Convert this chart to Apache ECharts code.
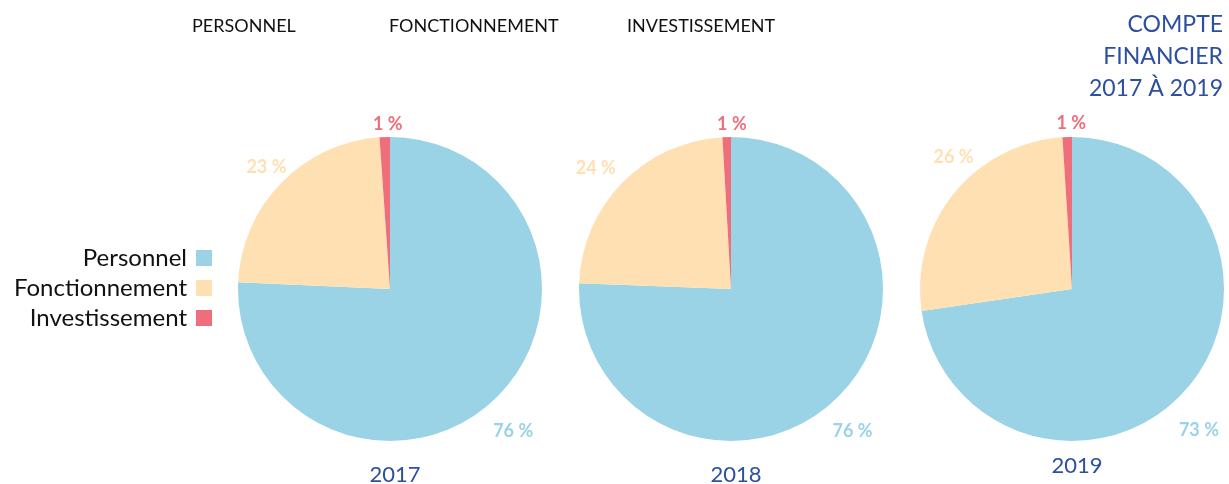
<!DOCTYPE html>
<html>
<head>
<meta charset="utf-8">
<script src="https://cdn.jsdelivr.net/npm/echarts@6/dist/echarts.min.js"></script>
<style>
  html, body { margin: 0; padding: 0; background: #fff; }
  #chart { width: 1229px; height: 484px; }
</style>
</head>
<body>
<div id="chart"></div>
<script>
// ---- data ----
const categories = ['Personnel', 'Fonctionnement', 'Investissement'];
const years = ['2017', '2018', '2019'];
const values2017 = [75.7, 23.2, 1.1];
const values2018 = [75.6, 23.5, 0.9];
const values2019 = [72.7, 26.3, 1.0];
const headerLabels = ['PERSONNEL', 'FONCTIONNEMENT', 'INVESTISSEMENT'];
const mainTitle = 'COMPTE\nFINANCIER\n2017 À 2019';

// ---- styles / layout ----
const COLORS = ['#9AD3E5', '#FFE0B2', '#EE6E7B'];
const FONT = 'Lato, "Open Sans", sans-serif';
const BLUE = '#2C4FA0';
const centersX = [390, 731, 1072];
const centerY = 289;
const yearLabelY = [472, 472, 463];
const headerX = [187, 384, 622];
// small nudges (px) of each percentage label away from its default mid-slice spot
const LABEL_NUDGE = [
  [[-2, 11], [6, 5], [4, 16]],
  [[-4, 12], [-6, 6], [6, 16]],
  [[-10, 23], [22, -18], [5, 15]]
];

const allValues = [values2017, values2018, values2019];

const series = [];
allValues.forEach((vals, k) => {
  series.push({
    type: 'pie',
    name: years[k],
    center: [centersX[k], centerY],
    radius: [0, 152],
    startAngle: 90,
    clockwise: true,
    silent: true,
    animation: false,
    label: { show: false },
    labelLine: { show: false },
    itemStyle: { borderWidth: 0 },
    data: categories.map((c, i) => ({ name: c, value: vals[i], itemStyle: { color: COLORS[i] } }))
  });
  // transparent ring used only to place the percentage labels outside the pie
  series.push({
    type: 'pie',
    name: years[k] + '-labels',
    center: [centersX[k], centerY],
    radius: [168, 188],
    startAngle: 90,
    clockwise: true,
    silent: true,
    animation: false,
    legendHoverLink: false,
    labelLine: { show: false },
    itemStyle: { color: 'rgba(0,0,0,0)', borderWidth: 0 },
    label: {
      show: true,
      position: 'inside',
      rotate: 0,
      fontFamily: FONT,
      fontWeight: 'bold',
      fontSize: 18,
      formatter: p => Math.round(p.value) + ' %'
    },
    labelLayout: function (params) {
      const n = LABEL_NUDGE[k][params.dataIndex];
      return { dx: n[0], dy: n[1] };
    },
    data: categories.map((c, i) => ({ name: c, value: vals[i], label: { color: COLORS[i] } }))
  });
});

const titles = [];
headerLabels.forEach((t, i) => {
  titles.push({ text: t, left: headerX[i], top: 12, textStyle: { fontFamily: FONT, fontSize: 18, fontWeight: 'normal', color: '#111' } });
});
years.forEach((y, i) => {
  titles.push({ text: y, left: centersX[i], top: yearLabelY[i] - 13, textAlign: 'center', textStyle: { fontFamily: FONT, fontSize: 22, fontWeight: 'normal', color: BLUE } });
});
titles.push({ text: mainTitle, left: 1218, top: 4, textAlign: 'right', textStyle: { fontFamily: FONT, fontSize: 23, fontWeight: 'normal', color: BLUE, lineHeight: 32 } });

const chart = echarts.init(document.getElementById('chart'), null, { renderer: 'canvas' });
chart.setOption({
  backgroundColor: '#fff',
  animation: false,
  title: titles,
  legend: {
    orient: 'vertical',
    align: 'right',
    right: 1017,
    top: 243,
    padding: 0,
    itemGap: 0,
    itemWidth: 16,
    itemHeight: 16,
    icon: 'rect',
    selectedMode: false,
    data: categories,
    textStyle: { fontFamily: FONT, fontSize: 24, color: '#111', lineHeight: 30, padding: [0, 4, 0, 0] }
  },
  series: series
});
</script>
</body>
</html>
